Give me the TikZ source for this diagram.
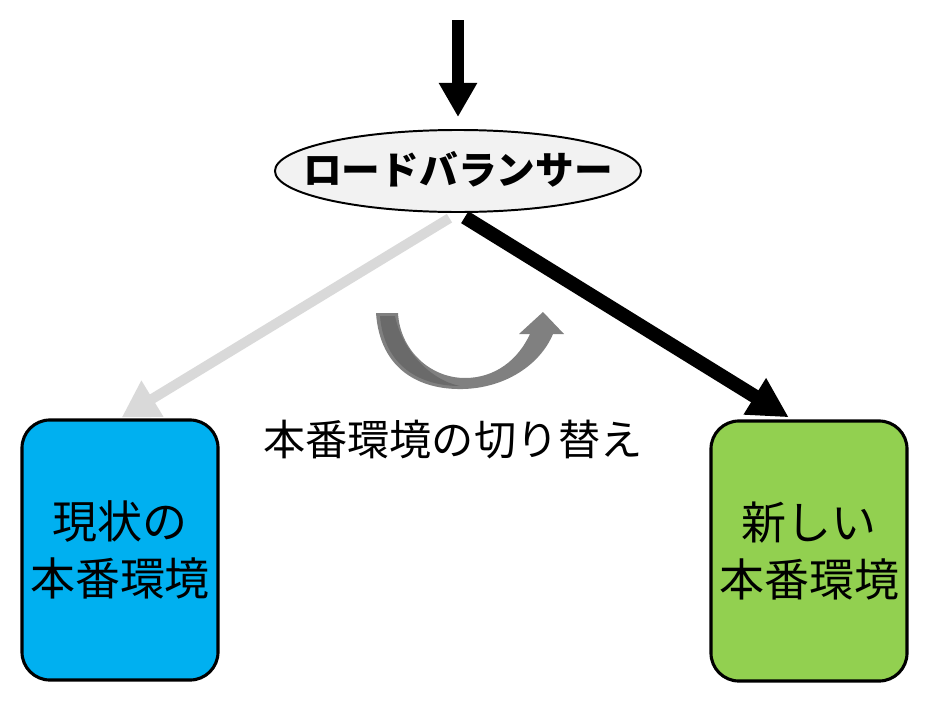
\documentclass[tikz,border=0pt]{standalone}
\usepackage{fontspec}
\usetikzlibrary{shapes.geometric, arrows.meta}
\newfontfamily\jp{Noto Sans CJK JP}
\definecolor{lbfill}{HTML}{F2F2F2}
\definecolor{curblue}{HTML}{00B0F0}
\definecolor{newgreen}{HTML}{92D050}
\definecolor{oldgray}{HTML}{D9D9D9}
\definecolor{swgray}{HTML}{808080}
\definecolor{swdark}{HTML}{6A6A6A}
\newcommand{\fixtext}[1]{\raisebox{-0.36em}[0pt][0pt]{\makebox[0pt]{#1}}}

\begin{document}
\begin{tikzpicture}[x=0.025cm, y=-0.025cm,
  envbox/.style={draw, line width=2.2pt, rounded corners=0.7cm,
    minimum width=4.9cm, minimum height=6.5cm, inner sep=0pt,
    align=center, font=\jp\fontsize{32}{40}\selectfont},
  balancer/.style={ellipse, draw, line width=1.4pt, fill=lbfill,
    minimum width=9.15cm, minimum height=2.05cm, inner sep=0pt,
    font=\jp\bfseries\fontsize{27.5}{30}\selectfont}]
  \useasboundingbox (0,0) rectangle (928,704);

  \node[balancer] (lb) at (458,171) {\fixtext{ロードバランサー}};
  \node[envbox, fill=curblue] (cur) at (120,550) {現状の\\本番環境};
  \node[envbox, fill=newgreen] (new) at (809,551) {新しい\\本番環境};
  \coordinate (in) at (458,20);

  \draw[line width=0.3cm, -{Triangle[width=0.9cm,length=0.85cm]},
    shorten >=0.3cm] (in) -- (lb.north);
  \draw[oldgray, line width=0.25cm, -{Triangle[width=1cm,length=0.9cm]},
    shorten <=0.25cm, shorten >=0.05cm] (lb.south) -- (cur.north);
  \draw[line width=0.35cm, -{Triangle[width=1cm,length=1cm]},
    shorten <=0.2cm, shorten >=0.1cm] (lb.south) -- ([xshift=-0.42cm]new.north);

  % switching arrow
  \fill[swgray] (376,313) .. controls (380,370) and (420,390) .. (463,389)
    .. controls (505,388) and (540,365) .. (553,334)
    -- (564,334) -- (543,312) -- (519,334) -- (530,334)
    .. controls (518,360) and (495,378) .. (465,378)
    .. controls (430,378) and (400,350) .. (398,313) -- cycle;
  \fill[swdark] (380,316) .. controls (384,366) and (420,386) .. (460,386)
    .. controls (430,380) and (402,350) .. (395,316) -- cycle;
  \node[font=\jp\fontsize{30}{36}\selectfont] (sw) at (453,440) {本番環境の切り替え};
\end{tikzpicture}
\end{document}
